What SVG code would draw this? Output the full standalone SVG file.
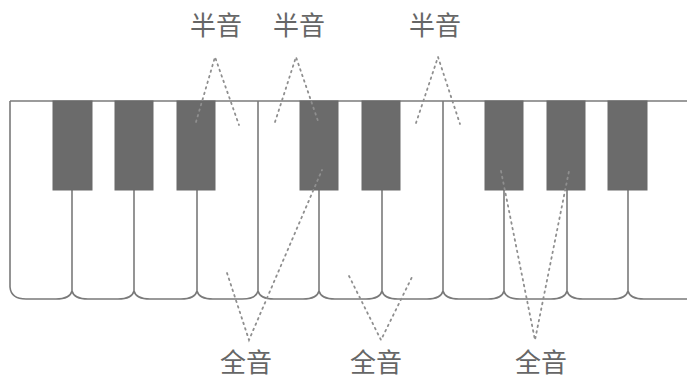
<svg xmlns="http://www.w3.org/2000/svg" width="687" height="379" viewBox="0 0 687 379">
<style>
.wk{fill:#fff;stroke:#7a7a7a;stroke-width:1.6}
.bk{fill:#6b6b6b;stroke:#6b6b6b;stroke-width:1}
.ln{fill:none;stroke:#7a7a7a;stroke-width:1.6}
.dot{fill:none;stroke:#8f8f8f;stroke-width:1.8;stroke-dasharray:1.6 4.2;stroke-linecap:round}
.lbl{font-family:"Noto Sans CJK SC","Noto Sans",sans-serif;font-size:26px;fill:#666;text-anchor:middle}
</style>
<rect width="687" height="379" fill="#fff"/>
<g id="keyboard">
<g id="white-keys" class="ln">
<line x1="10" y1="101" x2="687" y2="101"/>
<path d="M10,101 V287 Q11,299 26,299 H56 Q70,299 72,291"/>
<path d="M72,291 Q74,299 88,299 H118 Q132,299 134,291"/>
<path d="M134,291 Q136,299 150,299 H181 Q195,299 197,291"/>
<path d="M197,101 V291 Q199,299 213,299 H242 Q256,299 258,291"/>
<path d="M258,101 V291 Q260,299 274,299 H303 Q317,299 319,291"/>
<path d="M319,291 Q321,299 335,299 H366 Q380,299 382,291"/>
<path d="M382,291 Q384,299 398,299 H427 Q441,299 443,291"/>
<path d="M443,101 V291 Q445,299 459,299 H488 Q502,299 504,291"/>
<path d="M504,291 Q506,299 520,299 H551 Q565,299 567,291"/>
<path d="M567,291 Q569,299 583,299 H612 Q626,299 628,291"/>
<path d="M628,291 Q630,299 644,299 H687"/>
<line x1="72" y1="190" x2="72" y2="291"/>
<line x1="134" y1="190" x2="134" y2="291"/>
<line x1="319" y1="190" x2="319" y2="291"/>
<line x1="382" y1="190" x2="382" y2="291"/>
<line x1="504" y1="190" x2="504" y2="291"/>
<line x1="567" y1="190" x2="567" y2="291"/>
<line x1="628" y1="190" x2="628" y2="291"/>
</g>
<g id="black-keys">
<rect class="bk" x="53" y="101" width="39" height="89"/>
<rect class="bk" x="115" y="101" width="38" height="89"/>
<rect class="bk" x="177" y="101" width="38" height="89"/>
<rect class="bk" x="300" y="101" width="38" height="89"/>
<rect class="bk" x="362" y="101" width="38" height="89"/>
<rect class="bk" x="485" y="101" width="38" height="89"/>
<rect class="bk" x="547" y="101" width="38" height="89"/>
<rect class="bk" x="608" y="101" width="39" height="89"/>
</g>
</g>
<g id="connectors">
<polyline class="dot" points="196,122 215,57 239,125"/>
<polyline class="dot" points="275,122 296,57 318,121"/>
<polyline class="dot" points="416,123 438,57 460,124"/>
<polyline class="dot" points="227,273 249,340 322,170"/>
<polyline class="dot" points="349,276 381,340 412,277"/>
<polyline class="dot" points="501,171 535,340 569,171"/>
</g>
<g id="label-half-1"><text class="lbl" x="216" y="35">半音</text></g>
<g id="label-half-2"><text class="lbl" x="299" y="35">半音</text></g>
<g id="label-half-3"><text class="lbl" x="435" y="35">半音</text></g>
<g id="label-whole-1"><text class="lbl" x="246" y="372">全音</text></g>
<g id="label-whole-2"><text class="lbl" x="376" y="372">全音</text></g>
<g id="label-whole-3"><text class="lbl" x="541" y="372">全音</text></g>
</svg>
